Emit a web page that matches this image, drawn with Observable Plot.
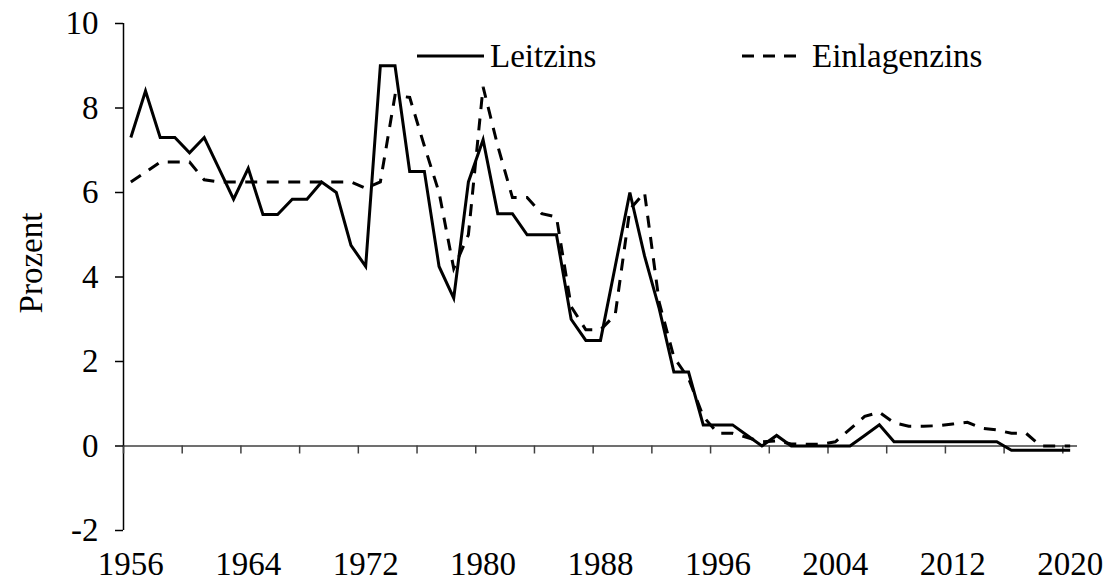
<!DOCTYPE html>
<html>
<head>
<meta charset="utf-8">
<script src="https://cdn.jsdelivr.net/npm/d3@7"></script>
<script src="https://cdn.jsdelivr.net/npm/@observablehq/plot@0.6"></script>
<style>
  html, body { margin: 0; padding: 0; background: #fff; }
  #wrap { position: relative; width: 1104px; height: 583px; font-family: "Liberation Serif", "Times New Roman", serif; }
  .leg { position: absolute; display: flex; align-items: center; height: 40px; font-size: 33px; color: #000; white-space: nowrap; }
  .leg svg { display: block; }
</style>
</head>
<body>
<div id="wrap">
  <div id="chart"></div>
  <div class="leg" style="left:417px; top:36px;">
    <svg width="67" height="40"><line x1="0" x2="67" y1="20" y2="20" stroke="#000" stroke-width="3"/></svg>
    <span style="margin-left:6px">Leitzins</span>
  </div>
  <div class="leg" style="left:742px; top:36px;">
    <svg width="63" height="40"><line x1="0" x2="63" y1="20" y2="20" stroke="#000" stroke-width="3" stroke-dasharray="12,9"/></svg>
    <span style="margin-left:7px">Einlagenzins</span>
  </div>
</div>
<script>
const years = [1956,1957,1958,1959,1960,1961,1962,1963,1964,1965,1966,1967,1968,1969,1970,1971,1972,1973,1974,1975,1976,1977,1978,1979,1980,1981,1982,1983,1984,1985,1986,1987,1988,1989,1990,1991,1992,1993,1994,1995,1996,1997,1998,1999,2000,2001,2002,2003,2004,2005,2006,2007,2008,2009,2010,2011,2012,2013,2014,2015,2016,2017,2018,2019,2020];

const leitzins = [7.3,8.4,7.3,7.3,6.94,7.3,6.57,5.84,6.57,5.48,5.48,5.84,5.84,6.25,6.0,4.75,4.25,9.0,9.0,6.5,6.5,4.25,3.5,6.25,7.25,5.5,5.5,5.0,5.0,5.0,3.0,2.5,2.5,4.25,6.0,4.5,3.25,1.75,1.75,0.5,0.5,0.5,0.25,0.0,0.25,0.0,0.0,0.0,0.0,0.0,0.25,0.5,0.1,0.1,0.1,0.1,0.1,0.1,0.1,0.1,-0.1,-0.1,-0.1,-0.1,-0.1];

const einlagenzins = [6.25,6.48,6.72,6.72,6.72,6.3,6.25,6.25,6.25,6.25,6.25,6.25,6.25,6.25,6.25,6.25,6.1,6.25,8.3,8.25,7.1,6.0,4.2,5.0,8.5,7.1,5.88,5.88,5.5,5.42,3.3,2.75,2.75,3.1,5.6,6.0,3.4,2.1,1.6,0.7,0.3,0.3,0.2,0.1,0.12,0.05,0.04,0.04,0.1,0.4,0.7,0.8,0.55,0.47,0.47,0.48,0.52,0.56,0.42,0.38,0.3,0.3,0.0,0.0,0.0];

const xLabels = [1956,1964,1972,1980,1988,1996,2004,2012,2020];
const xTickMarks = [1955.5,1959.5,1963.5,1967.5,1971.5,1975.5,1979.5,1983.5,1987.5,1991.5,1995.5,1999.5,2003.5,2007.5,2011.5,2015.5,2019.5];
const yTicks = [-2,0,2,4,6,8,10];
const yLabel = "Prozent";

const rows = years.map((year, i) => ({year, leitzins: leitzins[i], einlagenzins: einlagenzins[i]}));
const xDomain = [years[0] - 0.5, years[years.length - 1] + 0.5];

const chart = Plot.plot({
  width: 1104,
  height: 583,
  marginLeft: 123,
  marginRight: 27,
  marginTop: 23,
  marginBottom: 53,
  x: {domain: xDomain},
  y: {domain: [-2, 10]},
  style: {fontFamily: "'Liberation Serif', 'Times New Roman', serif", fontSize: "33px", color: "#000", background: "#fff"},
  marks: [
    Plot.ruleY([0], {stroke: "#404040", strokeWidth: 1.5}),
    Plot.ruleX([xDomain[0]], {stroke: "#000", strokeWidth: 1.5}),
    Plot.ruleX(xTickMarks, {y1: 0, y2: 0, insetBottom: -8, stroke: "#404040", strokeWidth: 1.5}),
    Plot.axisY({ticks: yTicks, tickSize: 8, tickPadding: 17, tickFormat: d => String(d), label: null, strokeWidth: 1.5, fontSize: 33}),
    Plot.axisX({ticks: xLabels, tickSize: 0, tickPadding: 21, tickFormat: d => String(d), label: null, fontSize: 33}),
    Plot.line(rows, {x: "year", y: "einlagenzins", stroke: "#000", strokeWidth: 3, strokeDasharray: "12,9.5", strokeLinecap: "butt", strokeLinejoin: "miter", strokeMiterlimit: 4}),
    Plot.line(rows, {x: "year", y: "leitzins", stroke: "#000", strokeWidth: 3, strokeLinecap: "butt", strokeLinejoin: "miter", strokeMiterlimit: 4}),
    Plot.text([yLabel], {frameAnchor: "left", textAnchor: "middle", rotate: -90, dx: -92, dy: -14, fontSize: 33, fill: "#000"})
  ]
});
document.getElementById("chart").appendChild(chart);
</script>
</body>
</html>
